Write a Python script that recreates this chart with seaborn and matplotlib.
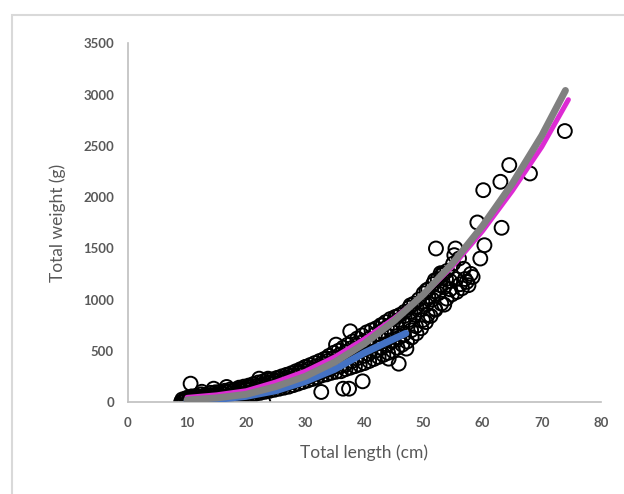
import numpy as np
import pandas as pd
import seaborn as sns
import matplotlib.pyplot as plt
from matplotlib.patches import Rectangle

band_upper_len = [9.2, 10.0, 10.8, 11.6, 12.4, 13.2, 14.0, 14.8, 15.6, 16.4, 17.2, 18.0, 18.8, 19.6,
                  20.4, 21.2, 22.0, 22.8, 23.6, 24.4, 25.2, 26.0, 26.8, 27.6, 28.4, 29.2, 30.0, 30.8,
                  31.6, 32.4, 33.2, 34.0, 34.8, 35.6, 36.4, 37.2, 38.0, 38.8, 39.6, 40.4, 41.2, 42.0,
                  42.8, 43.6, 44.4, 45.2, 46.0, 46.8, 47.6, 48.4, 49.2, 50.0, 50.8, 51.6, 52.4, 53.2,
                  54.0, 55.0]
band_upper_wt = [25, 40, 55, 60, 75, 70, 90, 95, 100, 110, 120, 120, 140, 150,
                 160, 175, 190, 200, 215, 220, 235, 250, 265, 280, 300, 320, 340, 360,
                 380, 400, 420, 450, 480, 500, 530, 560, 590, 620, 650, 680, 700, 720,
                 750, 780, 810, 830, 850, 880, 920, 960, 1000, 1060, 1100, 1150, 1200, 1240,
                 1280, 1350]

band_hi_len = [9.8, 10.8, 11.8, 12.8, 13.8, 14.8, 15.8, 16.8, 17.8, 18.8, 19.8, 20.8, 21.8, 22.8,
               23.8, 24.8, 25.8, 26.8, 27.8, 28.8, 29.8, 30.8, 31.8, 32.8, 33.8, 34.8, 35.8, 36.8,
               37.8, 38.8, 39.8, 40.8, 41.8, 42.8, 43.8, 44.8, 45.8, 46.8, 47.8, 48.8, 49.8, 50.8,
               51.8, 52.8, 53.8]
band_hi_wt = [35, 45, 50, 60, 65, 75, 85, 95, 105, 120, 130, 145, 160, 175,
              190, 205, 220, 240, 260, 280, 305, 330, 350, 375, 400, 430, 460, 490,
              525, 555, 590, 620, 660, 690, 730, 770, 800, 840, 880, 930, 980, 1030,
              1080, 1140, 1200]

band_mid_len = [9.5, 10.5, 11.5, 12.5, 13.5, 14.5, 15.5, 16.5, 17.5, 18.5, 19.5, 20.5, 21.5, 22.5,
                23.5, 24.5, 25.5, 26.5, 27.5, 28.5, 29.5, 30.5, 31.5, 32.5, 33.5, 34.5, 35.5, 36.5,
                37.5, 38.5, 39.5, 40.5, 41.5, 42.5, 43.5, 44.5, 45.5, 46.5, 47.5, 48.5, 49.5, 50.5,
                51.5, 52.5, 53.5, 54.5]
band_mid_wt = [15, 25, 35, 45, 50, 60, 70, 75, 85, 95, 105, 115, 130, 145,
               160, 170, 185, 200, 220, 240, 260, 280, 300, 325, 350, 375, 400, 430,
               460, 490, 520, 560, 590, 620, 660, 700, 740, 770, 800, 850, 900, 950,
               1000, 1060, 1120, 1180]

band_lo_len = [9.3, 10.2, 11.0, 11.9, 12.7, 13.9, 14.7, 15.9, 16.7, 17.9, 18.7, 19.9, 20.7, 21.9,
               22.7, 23.9, 24.7, 25.9, 26.7, 27.9, 28.7, 29.9, 30.7, 31.9, 32.7, 33.9, 34.7, 35.9,
               36.7, 37.9, 38.7, 39.9, 40.7, 41.9, 42.7, 43.9, 44.7, 45.9, 46.7, 47.9, 48.7, 49.9,
               50.7, 51.9]
band_lo_wt = [5, 15, 20, 25, 30, 35, 40, 45, 55, 60, 70, 80, 90, 105,
              115, 130, 145, 160, 175, 195, 215, 235, 250, 275, 295, 320, 340, 350,
              360, 400, 425, 450, 470, 500, 530, 560, 590, 630, 660, 700, 740, 800,
              850, 910]

band_lower_len = [9.0, 9.6, 10.4, 11.2, 12.0, 12.8, 13.6, 14.4, 15.2, 16.0, 16.8, 17.6, 18.4, 19.2,
                  20.0, 20.8, 21.6, 22.4, 23.2, 24.0, 24.8, 25.6, 26.4, 27.2, 28.0, 28.8, 29.6, 30.4,
                  31.2, 32.0, 32.8, 33.6, 34.4, 35.2, 36.0, 36.8, 37.6, 38.4, 39.2, 40.0, 40.8, 41.6,
                  42.4, 43.2, 44.0, 44.8, 45.6, 46.4, 47.2, 48.0, 48.8, 49.6, 50.4, 51.2, 52.0, 53.0]
band_lower_wt = [0, 5, 5, 10, 10, 15, 20, 20, 25, 30, 35, 40, 45, 55,
                 60, 70, 80, 90, 100, 110, 120, 130, 140, 150, 165, 180, 195, 210,
                 225, 240, 260, 270, 285, 295, 300, 320, 335, 350, 365, 380, 400, 420,
                 440, 460, 480, 500, 530, 560, 590, 630, 670, 720, 780, 840, 900, 960]

outlier_len = [73.9, 64.5, 63.0, 60.1, 68.0, 59.1, 63.2, 60.3, 59.6, 52.1, 55.4, 55.2, 56.0,
               58.0, 58.3, 57.6, 55.6, 56.5, 53.9, 53.2, 51.9, 50.5, 47.8, 45.5, 43.1, 37.6,
               35.2, 33.7, 30.0, 29.0, 39.7, 36.4, 37.4, 32.7, 45.8, 44.1, 47.1, 22.9, 10.6,
               16.7, 14.5, 22.2, 23.7, 20.2, 26.3, 12.5, 19.0, 57.3, 52.9,
               54.5, 55.5, 56.2, 56.8, 57.0, 53.5, 54.8]
outlier_wt = [2644, 2312, 2149, 2067, 2230, 1752, 1700, 1530, 1400, 1498, 1498, 1433, 1400,
              1250, 1220, 1140, 1074, 1110, 1009, 1253, 1188, 1090, 944, 830, 749, 690,
              560, 423, 342, 293, 202, 130, 130, 98, 374, 423, 521, 0, 179,
              147, 130, 228, 228, 147, 212, 100, 130, 1172, 1257,
              1100, 1200, 1150, 1300, 1200, 950, 1050]

# fitted curves, points
magenta_len = [10, 15, 20, 25, 30, 35, 40, 45, 50, 55, 60, 65, 70, 74.5]
magenta_wt = [45, 70, 110, 195, 300, 440, 615, 815, 1045, 1330, 1670, 2060, 2490, 2950]

gray_len = [10, 15, 20, 25, 30, 35, 40, 45, 50, 55, 60, 65, 70, 74]
gray_wt = [20, 40, 75, 150, 250, 390, 570, 790, 1050, 1360, 1720, 2130, 2600, 3040]

blue_len = [10, 15, 20, 25, 30, 35, 40, 44, 47]
blue_wt = [10, 25, 55, 110, 200, 320, 480, 590, 670]

fish = pd.DataFrame({
    'length': (band_upper_len + band_hi_len + band_mid_len + band_lo_len
               + band_lower_len + outlier_len),
    'weight': (band_upper_wt + band_hi_wt + band_mid_wt + band_lo_wt
               + band_lower_wt + outlier_wt),
})

sns.set_style('white')
plt.rcParams['font.family'] = ['Lato', 'DejaVu Sans']

fig = plt.figure(figsize=(6.24, 4.94), dpi=100)
ax = fig.add_axes([0.205, 0.1862, 0.758, 0.7261])

sns.scatterplot(data=fish, x='length', y='weight', ax=ax, marker='o', s=100,
                facecolors='none', edgecolor='black', linewidth=1.4, zorder=2)

curves = [
    (blue_len, blue_wt, '#4472C4', 5.0),
    (magenta_len, magenta_wt, '#DD2BD3', 3.6),
    (gray_len, gray_wt, '#808080', 5.0),
]
for xs, ys, col, lw in curves:
    sns.lineplot(x=xs, y=ys, ax=ax, color=col, linewidth=lw, estimator=None,
                 solid_capstyle='round', zorder=3)

ax.set_xlim(0, 80)
ax.set_ylim(0, 3500)
ax.set_xticks(range(0, 81, 10))
ax.set_yticks(range(0, 3501, 500))

for side in ['top', 'right']:
    ax.spines[side].set_visible(False)
for side in ['left', 'bottom']:
    ax.spines[side].set_color('#BFBFBF')
    ax.spines[side].set_linewidth(1.2)

ax.tick_params(axis='both', length=0, labelsize=9.5, labelcolor='#595959')
ax.tick_params(axis='x', pad=11)
ax.tick_params(axis='y', pad=10)
for lab in ax.get_xticklabels() + ax.get_yticklabels():
    lab.set_fontweight('bold')

ax.set_xlabel('Total length (cm)', fontsize=12.5, color='#595959', labelpad=11)
ax.set_ylabel('Total weight (g)', fontsize=12.5, color='#595959', labelpad=12)

# light frame of the chart area (only top and left edges are inside the image)
fig.patches.append(Rectangle((12 / 624, -0.1), 1.2, 0.1 + (1 - 15 / 494),
                             transform=fig.transFigure, fill=False,
                             edgecolor='#D9D9D9', linewidth=1.5))

fig.savefig('out.png', dpi=100)
